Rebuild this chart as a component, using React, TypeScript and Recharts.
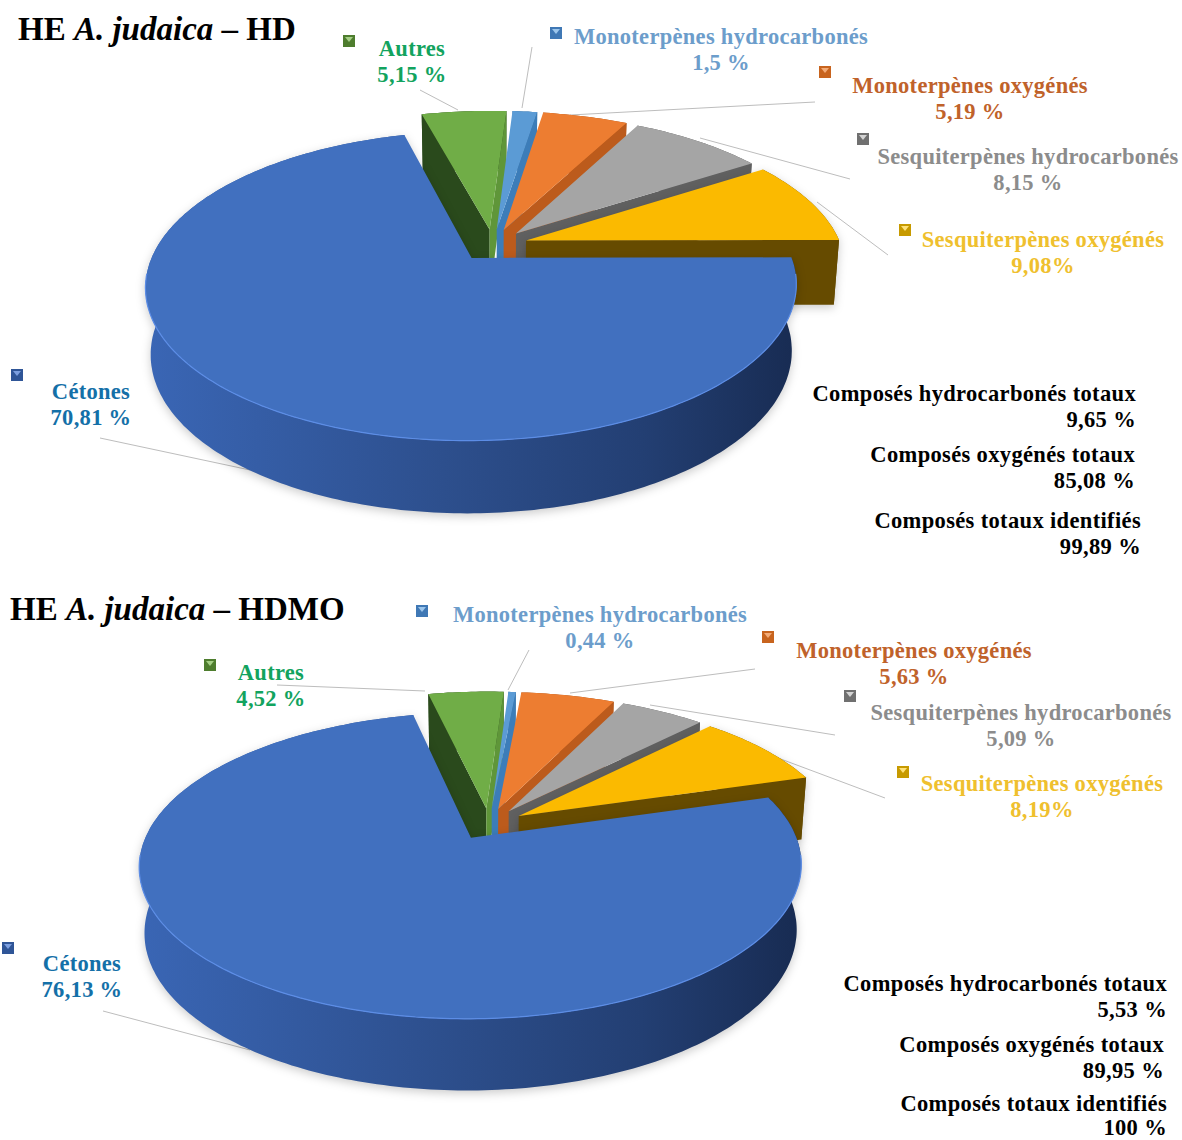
import React from "react";
import { PieChart, Pie } from "recharts";

// Essential-oil composition, percentages per chemical family
const families = [
  "Autres",
  "Monoterpènes hydrocarbonés",
  "Monoterpènes oxygénés",
  "Sesquiterpènes hydrocarbonés",
  "Sesquiterpènes oxygénés",
  "Cétones",
];
const valuesHD = [5.15, 1.5, 5.19, 8.15, 9.08, 70.81];
const valuesHDMO = [4.52, 0.44, 5.63, 5.09, 8.19, 76.13];
const percentLabelsHD = ["5,15 %", "1,5 %", "5,19 %", "8,15 %", "9,08%", "70,81 %"];
const percentLabelsHDMO = ["4,52 %", "0,44 %", "5,63 %", "5,09 %", "8,19%", "76,13 %"];

const totalNames = ["Composés hydrocarbonés totaux", "Composés oxygénés totaux", "Composés totaux identifiés"];
const totalsHD = ["9,65 %", "85,08 %", "99,89 %"];
const totalsHDMO = ["5,53 %", "89,95 %", "100 %"];

// Palette, one entry per family
const topFill = ["#70AD47", "#5B9BD5", "#ED7D31", "#A5A5A5", "#FBBA00", "#4170BF"];
const lowEdgeFill = ["#5F9639", "#3C7DB9", "#BC5B1C", "#606060", "#664B00", "#2F5597"];
const highEdgeFill = ["#2A4A1C", "#2E6496", "#A04C14", "#555555", "#5A4200", "#2F5597"];
const rimLeft = ["#2A4A1C", "#2E6496", "#A04C14", "#555555", "#664B00", "#3A66B5"];
const rimRight = ["#2A4A1C", "#2E6496", "#A04C14", "#555555", "#664B00", "#172A50"];
const labelFill = ["#12A35E", "#6C9DCB", "#C0622A", "#8C8C8C", "#EFC02E", "#1470A8"];
const swatchFill = ["#4E7D2E", "#3F78B5", "#C8641E", "#707070", "#C79A00", "#2F5597"];
const swatchLight = ["#A5CF85", "#9CC6EC", "#F4AC78", "#D4D4D4", "#FFE27A", "#7C9FE0"];

const SERIF = "'Liberation Serif', serif";

type Geometry = { id: string; squash: number; tilt: number; explode: number; depth: number; depthTilt: number };

// Builds the Pie shape: flat sector angles become a tilted, exploded disc with walls
const makeSlice = (geo: Geometry) => (props: any) => {
  const { cx, cy, outerRadius, startAngle, endAngle, index } = props;
  const rad = Math.PI / 180;
  const mid = ((startAngle + endAngle) / 2) * rad;
  const ox = geo.explode * Math.cos(mid);
  const oy = geo.explode * Math.sin(mid);
  const ry = outerRadius * geo.squash;

  const top = (u: number, v: number) => {
    const w = 1 + geo.tilt * (v + oy);
    return [cx + (outerRadius * (u + ox)) / w, cy - (ry * (v + oy)) / w];
  };
  const bottom = (u: number, v: number) => {
    const w = 1 + geo.tilt * (v + oy);
    return [
      cx + (0.985 * outerRadius * (u + ox)) / w,
      cy - (ry * (v + oy)) / w + geo.depth / (1 + geo.depthTilt * (v + oy)),
    ];
  };

  const lo = Math.min(startAngle, endAngle);
  const hi = Math.max(startAngle, endAngle);
  const angles: number[] = [];
  for (let a = lo; a < hi; a += 1) angles.push(a);
  angles.push(hi);
  const rimOf = (fn: (u: number, v: number) => number[]) =>
    angles.map((a) => fn(Math.cos(a * rad), Math.sin(a * rad)));

  const poly = (pts: number[][]) =>
    "M" + pts.map((p) => `${p[0].toFixed(1)},${p[1].toFixed(1)}`).join("L") + "Z";

  const topRim = rimOf(top);
  const bottomRim = rimOf(bottom);
  const apexTop = top(0, 0);
  const apexBottom = bottom(0, 0);
  const last = angles.length - 1;
  const gradId = `${geo.id}-rim-${index}`;

  // A radial cut face is only seen when its outward normal points to the viewer
  const showLowEdge = Math.cos(lo * rad) > 0 && index !== 5;
  const showHighEdge = Math.cos(hi * rad) < 0 && index !== 5;

  const frontArc =
    index === 5
      ? angles
          .filter((a) => Math.sin(a * rad) < -0.1)
          .map((a) => top(Math.cos(a * rad), Math.sin(a * rad)))
      : [];

  return (
    <g style={{ filter: index >= 4 ? "drop-shadow(0px 3px 5px rgba(0,0,0,0.2))" : undefined }}>
      <defs>
        <linearGradient id={gradId} gradientUnits="userSpaceOnUse" x1={cx - outerRadius * 1.1} x2={cx + outerRadius} y1={0} y2={0}>
          <stop offset="0" stopColor={rimLeft[index]} />
          <stop offset="0.45" stopColor={index === 5 ? "#2D4F8D" : rimLeft[index]} />
          <stop offset="0.75" stopColor={index === 5 ? "#233F73" : rimRight[index]} />
          <stop offset="1" stopColor={rimRight[index]} />
        </linearGradient>
      </defs>
      <path d={poly([...topRim, ...[...bottomRim].reverse()])} fill={`url(#${gradId})`} />
      {showHighEdge && <path d={poly([apexTop, topRim[last], bottomRim[last], apexBottom])} fill={highEdgeFill[index]} />}
      {showLowEdge && <path d={poly([apexTop, topRim[0], bottomRim[0], apexBottom])} fill={lowEdgeFill[index]} />}
      <path d={poly([apexTop, ...topRim])} fill={topFill[index]} />
      {frontArc.length > 1 && (
        <path
          d={"M" + frontArc.map((p) => `${p[0].toFixed(1)},${p[1].toFixed(1)}`).join("L")}
          fill="none"
          stroke="#5C8DE6"
          strokeWidth={1.2}
        />
      )}
    </g>
  );
};

const sliceHD = makeSlice({ id: "hd", squash: 0.46, tilt: 0.179, explode: 0.11, depth: 65, depthTilt: 0.0975 });
const sliceHDMO = makeSlice({ id: "hdmo", squash: 0.447, tilt: 0.179, explode: 0.11, depth: 64, depthTilt: 0.0975 });

const toRows = (values: number[]) => families.map((name, i) => ({ name, value: values[i] }));

// Beveled square legend key
const Swatch = ({ x, y, i }: { x: number; y: number; i: number }) => (
  <g>
    <rect x={x} y={y} width={12} height={12} fill={swatchFill[i]} />
    <path d={`M${x + 2},${y + 2}L${x + 10},${y + 2}L${x + 6},${y + 7}Z`} fill={swatchLight[i]} />
  </g>
);

const Title = ({ x, y, tail }: { x: number; y: number; tail: string }) => (
  <text x={x} y={y} fontFamily={SERIF} fontSize={33} fontWeight={700} fill="#000">
    HE <tspan fontStyle="italic">A. judaica</tspan> – {tail}
  </text>
);

const Labelled = ({ cx, y, i, pct }: { cx: number; y: number; i: number; pct: string }) => (
  <g fontFamily={SERIF} fontSize={22.5} fontWeight={700} letterSpacing={0.3} fill={labelFill[i]} textAnchor="middle">
    <text x={cx} y={y}>{families[i]}</text>
    <text x={cx} y={y + 26}>{pct}</text>
  </g>
);

const Total = ({ x, y, name, pct, gap = 26 }: { x: number; y: number; name: string; pct: string; gap?: number }) => (
  <g fontFamily={SERIF} fontSize={22.5} fontWeight={700} letterSpacing={0.35} fill="#000" textAnchor="end">
    <text x={x} y={y}>{name}</text>
    <text x={x} y={y + gap}>{pct}</text>
  </g>
);

const leadersHD = [
  [420, 90, 458, 110],
  [532, 47, 522, 108],
  [815, 102, 570, 115],
  [850, 179, 700, 138],
  [888, 255, 817, 202],
  [100, 438, 250, 470],
];
const leadersHDMO = [
  [277, 685, 425, 691],
  [529, 650, 508, 690],
  [755, 669, 570, 693],
  [835, 735, 650, 705],
  [885, 798, 770, 755],
  [103, 1011, 250, 1050],
];
const leaderStroke = "#BDBDBD";

export default function App() {
  return (
    <div style={{ position: "absolute", left: 0, top: 0, width: 1182, height: 1140, background: "#fff" }}>
      <PieChart width={1182} height={1140} margin={{ top: 0, right: 0, bottom: 0, left: 0 }}>
        {[...leadersHD, ...leadersHDMO].map((l, i) => (
          <line key={i} x1={l[0]} y1={l[1]} x2={l[2]} y2={l[3]} stroke={leaderStroke} strokeWidth={1} />
        ))}

        <Pie
          data={toRows(valuesHD)}
          dataKey="value"
          nameKey="name"
          cx={493}
          cy={245}
          innerRadius={0}
          outerRadius={315}
          startAngle={105}
          endAngle={-255}
          stroke="none"
          isAnimationActive={false}
          shape={sliceHD}
        />
        <Pie
          data={toRows(valuesHDMO)}
          dataKey="value"
          nameKey="name"
          cx={489}
          cy={824}
          innerRadius={0}
          outerRadius={320}
          startAngle={102.6}
          endAngle={-257.4}
          stroke="none"
          isAnimationActive={false}
          shape={sliceHDMO}
        />

        <Title x={18} y={40} tail="HD" />
        <Title x={10} y={620} tail="HDMO" />

        <Labelled cx={412} y={56} i={0} pct={percentLabelsHD[0]} />
        <Labelled cx={721} y={44} i={1} pct={percentLabelsHD[1]} />
        <Labelled cx={970} y={93} i={2} pct={percentLabelsHD[2]} />
        <Labelled cx={1028} y={164} i={3} pct={percentLabelsHD[3]} />
        <Labelled cx={1043} y={247} i={4} pct={percentLabelsHD[4]} />
        <Labelled cx={91} y={399} i={5} pct={percentLabelsHD[5]} />

        <Labelled cx={271} y={680} i={0} pct={percentLabelsHDMO[0]} />
        <Labelled cx={600} y={622} i={1} pct={percentLabelsHDMO[1]} />
        <Labelled cx={914} y={658} i={2} pct={percentLabelsHDMO[2]} />
        <Labelled cx={1021} y={720} i={3} pct={percentLabelsHDMO[3]} />
        <Labelled cx={1042} y={791} i={4} pct={percentLabelsHDMO[4]} />
        <Labelled cx={82} y={971} i={5} pct={percentLabelsHDMO[5]} />

        <Swatch x={343} y={35} i={0} />
        <Swatch x={550} y={27} i={1} />
        <Swatch x={819} y={66} i={2} />
        <Swatch x={857} y={133} i={3} />
        <Swatch x={899} y={224} i={4} />
        <Swatch x={11} y={369} i={5} />

        <Swatch x={204} y={659} i={0} />
        <Swatch x={416} y={605} i={1} />
        <Swatch x={762} y={631} i={2} />
        <Swatch x={844} y={690} i={3} />
        <Swatch x={897} y={766} i={4} />
        <Swatch x={2} y={942} i={5} />

        <Total x={1136} y={401} name={totalNames[0]} pct={totalsHD[0]} />
        <Total x={1135} y={462} name={totalNames[1]} pct={totalsHD[1]} />
        <Total x={1141} y={528} name={totalNames[2]} pct={totalsHD[2]} />

        <Total x={1167} y={991} name={totalNames[0]} pct={totalsHDMO[0]} />
        <Total x={1164} y={1052} name={totalNames[1]} pct={totalsHDMO[1]} />
        <Total x={1167} y={1111} name={totalNames[2]} pct={totalsHDMO[2]} gap={24} />
      </PieChart>
    </div>
  );
}
